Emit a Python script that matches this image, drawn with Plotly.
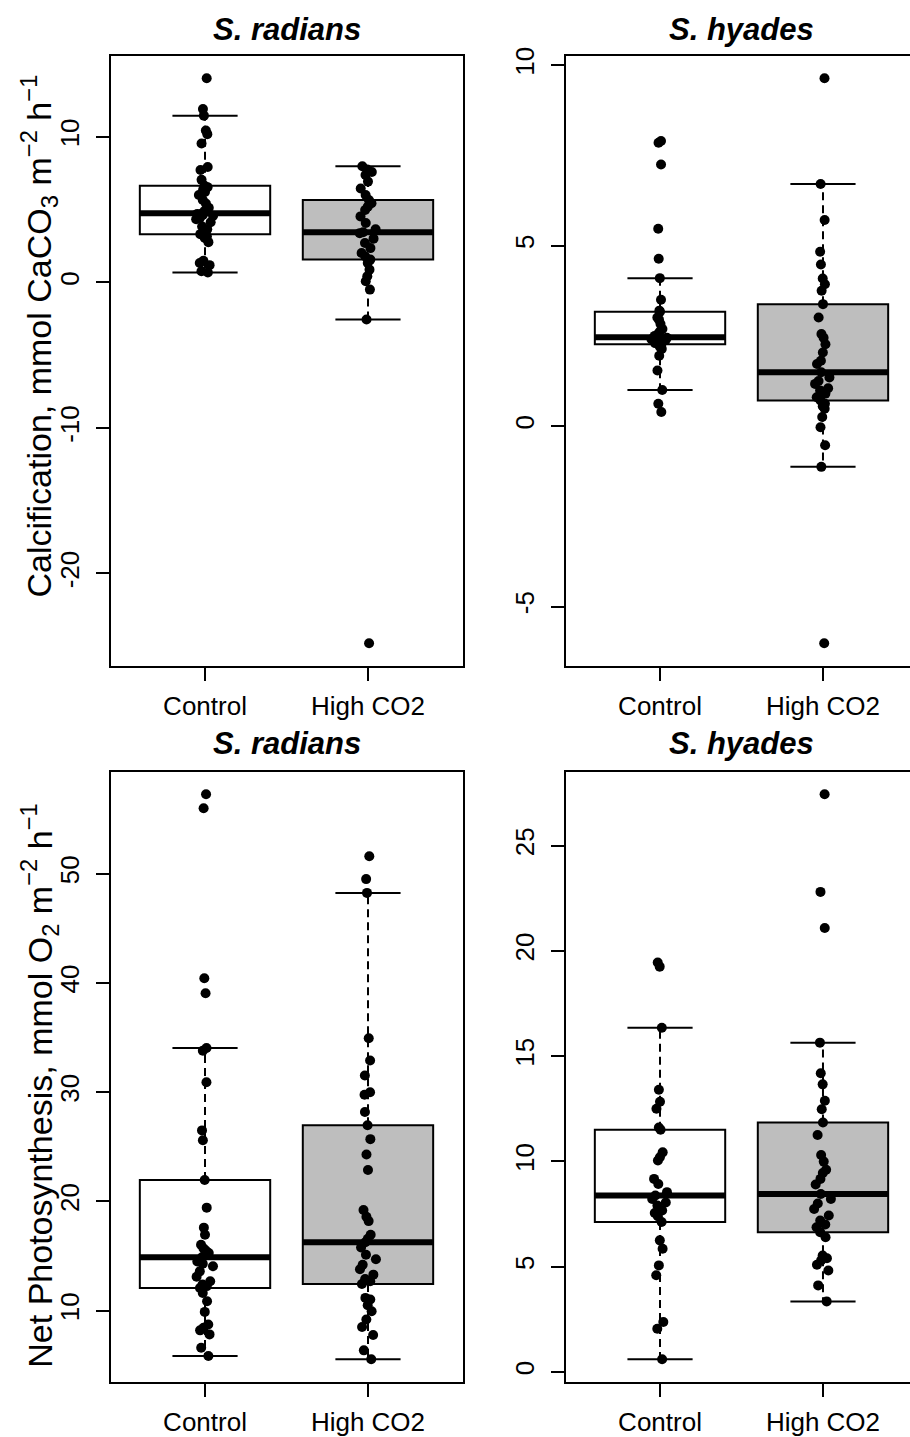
import math
import plotly.graph_objects as go

# ---------------- data ----------------
groups = ["Control", "High CO2"]
species = ["S. radians", "S. hyades"]

calc_radians_control = [0.68, 0.76, 1.18, 1.33, 1.48, 2.76, 3.05, 3.15, 3.25, 3.31, 3.64, 3.84, 4.13,
                        4.33, 4.43, 4.58, 4.63, 4.70, 4.74, 4.92, 5.12, 5.41, 5.66, 6.00, 6.20, 6.35,
                        6.54, 6.64, 7.04, 7.72, 7.92, 9.54, 10.18, 10.43, 11.45, 11.90, 14.02]
calc_radians_high = [-24.8, -2.55, -0.50, 0.07, 0.42, 0.87, 1.33, 1.56, 1.77, 2.01, 2.35, 2.70, 3.00,
                     3.38, 3.44, 3.64, 4.07, 4.53, 4.97, 5.20, 5.43, 5.66, 6.00, 6.45, 6.92, 7.37,
                     7.58, 7.75, 7.98]
calc_hyades_control = [0.39, 0.62, 1.00, 1.54, 1.95, 2.14, 2.20, 2.23, 2.27, 2.30, 2.33, 2.36, 2.39,
                       2.41, 2.43, 2.45, 2.46, 2.50, 2.55, 2.62, 2.69, 2.83, 2.95, 3.01, 3.17, 3.20,
                       3.50, 4.10, 4.64, 5.47, 7.25, 7.85, 7.90]
calc_hyades_high = [-6.02, -1.13, -0.53, -0.03, 0.25, 0.48, 0.55, 0.62, 0.71, 0.80, 0.90, 0.99, 1.05,
                    1.17, 1.25, 1.35, 1.49, 1.72, 1.81, 2.04, 2.27, 2.45, 2.55, 3.01, 3.38, 3.75,
                    3.93, 4.09, 4.48, 4.83, 5.71, 6.71, 9.64]
photo_radians_control = [5.85, 6.61, 7.83, 8.20, 8.43, 8.74, 9.89, 10.87, 11.62, 12.08, 12.25, 12.39,
                         12.69, 13.10, 13.60, 14.06, 14.30, 14.51, 14.88, 15.10, 15.27, 15.50, 15.72,
                         16.03, 16.95, 17.60, 19.43, 21.96, 25.60, 26.50, 30.90, 33.80, 34.05, 39.06,
                         40.43, 55.99, 57.27]
photo_radians_high = [5.55, 6.37, 7.77, 8.50, 9.20, 9.95, 10.50, 11.02, 11.17, 12.45, 12.69, 12.90,
                      13.30, 13.80, 14.21, 14.70, 15.12, 15.79, 16.27, 16.58, 16.95, 18.20, 18.60,
                      19.22, 22.87, 24.30, 25.70, 26.97, 28.19, 29.77, 30.00, 31.53, 32.90, 34.93,
                      48.24, 49.50, 51.59]
photo_hyades_control = [0.60, 2.05, 2.37, 4.59, 5.06, 5.85, 6.25, 7.12, 7.40, 7.55, 7.67, 7.90, 8.05,
                        8.22, 8.38, 8.54, 8.93, 9.17, 10.04, 10.20, 10.43, 11.50, 11.61, 12.50, 12.83,
                        13.40, 16.35, 19.25, 19.45]
photo_hyades_high = [3.35, 4.11, 4.82, 5.09, 5.30, 5.40, 5.53, 6.40, 6.64, 6.87, 7.00, 7.19, 7.43,
                     7.74, 8.00, 8.22, 8.45, 8.90, 9.17, 9.45, 9.60, 9.99, 10.30, 11.25, 11.85, 12.48,
                     12.88, 13.66, 14.19, 15.64, 21.09, 22.80, 27.44]

yticks_calc_radians = [-20, -10, 0, 10]
yticks_calc_hyades = [-5, 0, 5, 10]
yticks_photo_radians = [10, 20, 30, 40, 50]
yticks_photo_hyades = [0, 5, 10, 15, 20, 25]

ylab_calc = "Calcification, mmol CaCO<sub>3</sub> m<sup>\u22122</sup> h<sup>\u22121</sup>"
ylab_photo = "Net Photosynthesis, mmol O<sub>2</sub> m<sup>\u22122</sup> h<sup>\u22121</sup>"

box_fills = ["white", "#BEBEBE"]

# ---------------- layout geometry ----------------
W, H = 910, 1437
FONT = "Liberation Sans, Arial, sans-serif"
LW = 2

def fx(p):
    return p / W

def fy(p):
    return 1 - p / H

left_px = (110.5, 462.5)
right_left_px = 565.5
xr = (0.42, 2.58)
px_per_unit = (left_px[1] - left_px[0]) / (xr[1] - xr[0])
right_xr = (xr[0], xr[0] + (W - right_left_px) / px_per_unit)
top_px = (47, 662)
bot_px = (768.5, 1383.5)
title_px = [21, 740]


def fivenum(v):
    x = sorted(v)
    n = len(x)
    n4 = math.floor((n + 3) / 2) / 2
    d = [1, n4, (n + 1) / 2, n + 1 - n4, n]
    return [0.5 * (x[math.floor(k) - 1] + x[math.ceil(k) - 1]) for k in d]


def box_stats(v):
    f = fivenum(v)
    q1, med, q3 = f[1], f[2], f[3]
    iqr = q3 - q1
    inside = [a for a in v if q1 - 1.5 * iqr <= a <= q3 + 1.5 * iqr]
    return min(inside), q1, med, q3, max(inside)


panels = [
    dict(ax=1, data=[calc_radians_control, calc_radians_high], ticks=yticks_calc_radians,
         xdom=left_px, ydom=top_px, title=species[0], right=False, ty=title_px[0]),
    dict(ax=2, data=[calc_hyades_control, calc_hyades_high], ticks=yticks_calc_hyades,
         xdom=(right_left_px, W), ydom=top_px, title=species[1], right=True, ty=title_px[0]),
    dict(ax=3, data=[photo_radians_control, photo_radians_high], ticks=yticks_photo_radians,
         xdom=left_px, ydom=bot_px, title=species[0], right=False, ty=title_px[1]),
    dict(ax=4, data=[photo_hyades_control, photo_hyades_high], ticks=yticks_photo_hyades,
         xdom=(right_left_px, W), ydom=bot_px, title=species[1], right=True, ty=title_px[1]),
]

fig = go.Figure()
layout = dict(width=W, height=H, margin=dict(l=0, r=0, t=0, b=0), autosize=False,
              paper_bgcolor="white", plot_bgcolor="white", showlegend=False,
              boxgap=0, boxgroupgap=0, font=dict(family=FONT, size=26, color="black"))
annotations = []
shapes = []

for p in panels:
    i = p["ax"]
    xa = "x" if i == 1 else f"x{i}"
    ya = "y" if i == 1 else f"y{i}"
    allv = p["data"][0] + p["data"][1]
    lo_all, hi_all = min(allv), max(allv)
    span = hi_all - lo_all
    yr = [lo_all - 0.04 * span, hi_all + 0.04 * span]

    # R-style boxes as shapes below the points
    for j, vals in enumerate(p["data"]):
        c = j + 1
        lo, q1, med, q3, hi = box_stats(vals)
        base = dict(xref=xa, yref=ya, layer="below")
        dashed = dict(color="black", width=LW, dash="8px,5px")
        solid = dict(color="black", width=LW)
        shapes.append(dict(type="line", x0=c, x1=c, y0=q3, y1=hi, line=dashed, **base))
        shapes.append(dict(type="line", x0=c, x1=c, y0=q1, y1=lo, line=dashed, **base))
        shapes.append(dict(type="line", x0=c - 0.2, x1=c + 0.2, y0=hi, y1=hi, line=solid, **base))
        shapes.append(dict(type="line", x0=c - 0.2, x1=c + 0.2, y0=lo, y1=lo, line=solid, **base))
        shapes.append(dict(type="rect", x0=c - 0.4, x1=c + 0.4, y0=q1, y1=q3,
                           fillcolor=box_fills[j], line=solid, **base))
        shapes.append(dict(type="line", x0=c - 0.4, x1=c + 0.4, y0=med, y1=med,
                           line=dict(color="black", width=6), **base))

    # jittered points
    for j, vals in enumerate(p["data"]):
        c = j + 1
        fig.add_trace(go.Box(x=[c] * len(vals), y=vals, xaxis=xa, yaxis=ya, orientation="v",
                             boxpoints="all", jitter=0.14, pointpos=0, width=0.8,
                             fillcolor="rgba(0,0,0,0)", line=dict(width=0, color="rgba(0,0,0,0)"),
                             marker=dict(color="black", size=10, line=dict(width=0)),
                             hoverinfo="skip", showlegend=False))

    layout["xaxis" if i == 1 else f"xaxis{i}"] = dict(
        domain=[fx(p["xdom"][0]), fx(p["xdom"][1])], anchor=ya,
        range=list(right_xr if p["right"] else xr),
        tickvals=[1, 2], ticktext=groups, ticks="outside", ticklen=13, tickwidth=LW,
        tickcolor="black", showline=True, linecolor="black", linewidth=LW, mirror=True,
        showgrid=False, zeroline=False, ticklabelstandoff=3,
        tickfont=dict(family=FONT, size=26, color="black"), fixedrange=True)
    layout["yaxis" if i == 1 else f"yaxis{i}"] = dict(
        domain=[fy(p["ydom"][1]), fy(p["ydom"][0])], anchor=xa, range=yr,
        tickvals=p["ticks"], ticktext=[str(t) for t in p["ticks"]], tickangle=-90,
        ticks="outside", ticklen=13, tickwidth=LW, tickcolor="black",
        showline=True, linecolor="black", linewidth=LW, mirror=not p["right"],
        showgrid=False, zeroline=False, ticklabelstandoff=6,
        tickfont=dict(family=FONT, size=26, color="black"), fixedrange=True)

    full_right_px = p["xdom"][0] + (xr[1] - xr[0]) * px_per_unit
    annotations.append(dict(text=f"<b><i>{p['title']}</i></b>", xref="paper", yref="paper",
                            x=fx((p["xdom"][0] + full_right_px) / 2), y=fy(p["ty"]),
                            xanchor="center", yanchor="middle", showarrow=False,
                            font=dict(family=FONT, size=31, color="black")))

annotations.append(dict(text=ylab_calc, xref="paper", yref="paper", x=fx(39), y=fy(330),
                        xanchor="center", yanchor="middle", textangle=-90, showarrow=False,
                        font=dict(family=FONT, size=34, color="black")))
annotations.append(dict(text=ylab_photo, xref="paper", yref="paper", x=fx(39), y=fy(1085),
                        xanchor="center", yanchor="middle", textangle=-90, showarrow=False,
                        font=dict(family=FONT, size=34, color="black")))
layout["annotations"] = annotations
layout["shapes"] = shapes
fig.update_layout(**layout)

fig.write_html("out.html")
